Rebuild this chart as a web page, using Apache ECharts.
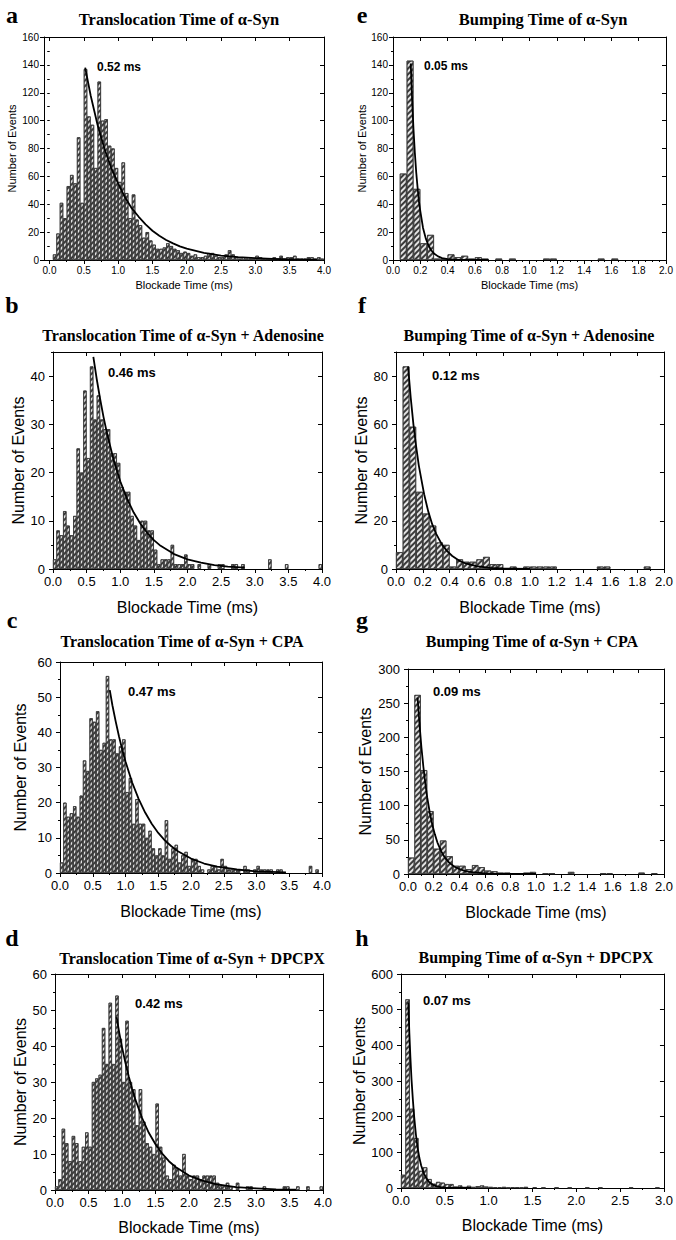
<!DOCTYPE html>
<html><head><meta charset="utf-8">
<script src="https://cdn.jsdelivr.net/npm/echarts@6/dist/echarts.min.js"></script>
<style>html,body{margin:0;padding:0;background:#fff}#c{width:676px;height:1240px}</style>
</head><body><div id="c"></div>
<script>
// ---------------- DATA ----------------
const BIN = 0.05;
// panel a: Translocation Time of α-Syn (bins start at 0.05 ms)
const aStart = 0.05;
const aCounts = [4,19,41,30,53,61,55,88,41,137, 103,97,66,128,100,101,82,80,66,56, 70,48,30,47,29,25,16,20,14,11,
  8,8,9,12,10,8,7,5,6,5, 3,4,2,2,3,5,5,3,2,2, 4,7,4,2,1,2,1,1,1,3, 2,1,1,1,2,1,3,1,2,2, 3,1,1,1,2,2,1,2,1];
const aFit = [[0.52,138],[0.6,118],[0.7,97],[0.8,80],[0.9,66],[1.0,55],[1.1,45],[1.2,37],[1.3,31],[1.4,25.5],[1.5,21],[1.6,17.4],[1.7,14.4],[1.8,11.9],[1.9,9.8],[2.0,8.1],[2.25,5.1],[2.5,3.2],[2.75,2.0],[3.0,1.3],[3.25,0.8],[3.5,0.5],[3.75,0.3],[3.9,0.25]];
// panel e: Bumping Time of α-Syn
const eStart = 0.05;
const eCounts = [62,143,51,12,18,1,1,4,2,3, 1,2,1,0,1,0,1,0,0,0, 0,1,1,0,0,0,0,0,0,1, 0,1];
const eFit = [[0.13,141],[0.14,115],[0.15,94],[0.16,77],[0.17,63],[0.18,52],[0.19,42],[0.2,35],[0.22,23],[0.24,15.5],[0.26,10.4],[0.28,7],[0.3,4.7],[0.33,2.6],[0.36,1.4],[0.4,0.6],[0.45,0.2],[0.5,0.1],[0.7,0]];
// panel b: Translocation + Adenosine
const bStart = 0;
const bCounts = [2,8,7,12,9,7,11,25,20,37, 23,42,31,36,31,29,29,24,24,22, 17,16,16,11,9,6,10,10,8,8,
  4,1,2,2,2,5,1,1,1,3, 1,1,0,1,0,0,1,0,0,1, 1,0,0,1,1,0,1,0,0,0, 0,0,0,0,2,0,0,0,0,1, 0,0,0,0,0,0,0,0,0,1];
const bFit = [[0.6,44],[0.65,39.4],[0.7,35.3],[0.75,31.6],[0.8,28.3],[0.9,22.7],[1.0,18.2],[1.1,14.6],[1.2,11.7],[1.3,9.4],[1.4,7.5],[1.5,6.0],[1.6,4.8],[1.8,3.1],[2.0,2.0],[2.2,1.3],[2.4,0.8],[2.6,0.5],[2.85,0.3]];
// panel f: Bumping + Adenosine
const fStart = 0;
const fCounts = [7,84,59,32,23,18,11,10,1,4, 3,3,4,5,2,2,0,1,0,1, 1,1,1,1,0,0,0,0,0,0, 1,1,0,0,0,0,0,1];
const fFit = [[0.09,84],[0.11,71],[0.13,60],[0.15,51],[0.17,43],[0.19,37],[0.21,31],[0.24,24],[0.27,18.6],[0.3,14.6],[0.34,10.4],[0.38,7.5],[0.42,5.4],[0.47,3.5],[0.52,2.3],[0.6,1.2],[0.7,0.5],[0.8,0.2],[1.0,0]];
// panel c: Translocation + CPA
const cStart = 0;
const cCounts = [3,20,16,17,19,16,22,32,29,44, 43,46,35,37,56,38,38,34,36,38, 23,27,14,21,14,14,10,12,7,5,
  7,5,15,4,7,8,3,5,6,2, 4,4,2,1,0,1,2,2,1,4, 2,1,1,1,1,0,2,1,0,1, 2,1,1,1,1,0,1,1,0,0, 0,0,0,0,0,0,2,0,1,0];
const cFit = [[0.76,52],[0.8,47.7],[0.85,43.1],[0.9,38.9],[0.95,35.1],[1.0,31.7],[1.1,25.8],[1.2,21.1],[1.3,17.2],[1.4,14.0],[1.5,11.4],[1.6,9.3],[1.7,7.6],[1.8,6.2],[2.0,4.1],[2.2,2.7],[2.4,1.8],[2.7,1.0],[3.0,0.45],[3.45,0.2]];
// panel g: Bumping + CPA
const gStart = 0;
const gCounts = [24,262,152,92,37,49,26,12,12,7, 13,10,5,4,2,2,1,0,2,3, 0,1,1,0,0,3,0,0,0,0, 1,1,0,0,0,0,2,0,1,0];
const gFit = [[0.075,258],[0.09,219],[0.105,185],[0.12,157],[0.135,133],[0.15,112],[0.17,90],[0.19,72],[0.21,58],[0.23,46],[0.26,33],[0.29,23.5],[0.32,17],[0.36,11],[0.4,7.3],[0.45,4.3],[0.5,2.6],[0.6,0.9],[0.7,0.3],[0.85,0.1],[1.0,0]];
// panel d: Translocation + DPCPX
const dStart = 0;
const dCounts = [1,3,17,13,8,15,13,8,12,16, 12,30,31,32,45,35,52,35,54,42, 30,47,30,28,18,28,19,13,12,10,
  24,12,9,4,3,7,6,4,10,4, 3,4,4,3,4,4,4,4,2,1, 1,2,1,0,2,0,0,1,1,0, 0,0,1,0,0,0,0,0,1,1, 0,0,1,0,0,1,0,0,0,1];
const dFit = [[0.92,48],[0.96,43.6],[1.0,39.7],[1.05,35.4],[1.1,31.6],[1.15,28.2],[1.2,25.1],[1.3,20.0],[1.4,15.9],[1.5,12.7],[1.6,10.1],[1.7,8.0],[1.8,6.4],[2.0,4.0],[2.2,2.6],[2.4,1.6],[2.7,0.8],[3.0,0.45],[3.3,0.2],[3.6,0.1]];
// panel h: Bumping + DPCPX
const hStart = 0;
const hCounts = [37,529,222,140,48,58,25,12,17,15, 11,11,4,7,3,6,3,5,7,4, 3,2,2,3,1,2,2,1,3,0,
  2,0,1,0,0,1,0,0,1,0, 0,0,1,0,0,1,0,0,0,0, 0,0,1,0,0,0,0,0,1];
const hFit = [[0.083,520],[0.095,436],[0.107,367],[0.12,304],[0.135,249],[0.15,200],[0.17,150],[0.19,112],[0.21,84],[0.23,63],[0.26,41],[0.29,27],[0.32,17],[0.36,9.6],[0.4,5.4],[0.45,2.7],[0.5,1.3],[0.6,0.3],[0.8,0]];

// tick labels
const xTicks4 = [0,0.5,1,1.5,2,2.5,3,3.5,4];
const xTicks2 = [0,0.2,0.4,0.6,0.8,1,1.2,1.4,1.6,1.8,2];
const xTicks3 = [0,0.5,1,1.5,2,2.5,3];
const yTicks160 = [0,20,40,60,80,100,120,140,160];
const yTicks40 = [0,10,20,30,40];
const yTicks80 = [0,20,40,60,80];
const yTicks60 = [0,10,20,30,40,50,60];
const yTicks300 = [0,50,100,150,200,250,300];
const yTicks600 = [0,100,200,300,400,500,600];

const titles = {
  a:'Translocation Time of α-Syn', e:'Bumping Time of α-Syn',
  b:'Translocation Time of α-Syn + Adenosine', f:'Bumping Time of α-Syn + Adenosine',
  c:'Translocation Time of α-Syn + CPA', g:'Bumping Time of α-Syn + CPA',
  d:'Translocation Time of α-Syn + DPCPX', h:'Bumping Time of α-Syn + DPCPX'
};
const fitLabels = {a:'0.52 ms', e:'0.05 ms', b:'0.46 ms', f:'0.12 ms', c:'0.47 ms', g:'0.09 ms', d:'0.42 ms', h:'0.07 ms'};
const X_NAME = 'Blockade Time (ms)';
const Y_NAME = 'Number of Events';

// ---------------- LAYOUT ----------------
const SANS = 'Liberation Sans, Arial, sans-serif';
const SERIF = 'Liberation Serif, Times New Roman, serif';
const panels = [
  {k:'a', start:aStart, counts:aCounts, fit:aFit, grid:{left:44,top:37,width:280,height:223}, xmin:-0.08, xmax:4, xt:xTicks4, xminor:0.25, ymax:160, yt:yTicks160, yminor:10, small:true,
   title:[179,19], titleSize:16.5, letter:[12,15], ann:[97,67], yNameGap:27, xNameGap:19},
  {k:'e', start:eStart, counts:eCounts, fit:eFit, grid:{left:393,top:37,width:273,height:223}, xmin:0, xmax:2, xt:xTicks2, xminor:0.05, ymax:160, yt:yTicks160, yminor:10, small:true,
   title:[543,19], titleSize:16.5, letter:[362,15], ann:[424,66], yNameGap:26, xNameGap:19},
  {k:'b', start:bStart, counts:bCounts, fit:bFit, grid:{left:53,top:352,width:269,height:217}, xmin:0, xmax:4, xt:xTicks4, xminor:0.25, ymax:45, yt:yTicks40, yminor:5,
   title:[183,335], titleSize:16, letter:[12,305], ann:[108,372], yNameGap:25, xNameGap:30},
  {k:'f', start:fStart, counts:fCounts, fit:fFit, grid:{left:396,top:352,width:271,height:217}, xmin:0, xmax:2, xt:xTicks2, xminor:0.1, ymax:90, yt:yTicks80, yminor:10,
   title:[529,335], titleSize:16, letter:[362,305], ann:[432,375], yNameGap:23, xNameGap:30},
  {k:'c', start:cStart, counts:cCounts, fit:cFit, grid:{left:60,top:662,width:262,height:211}, xmin:0, xmax:4, xt:xTicks4, xminor:0.25, ymax:60, yt:yTicks60, yminor:5,
   title:[182,641], titleSize:16, letter:[12,620], ann:[128,691], yNameGap:32, xNameGap:30},
  {k:'g', start:gStart, counts:gCounts, fit:gFit, grid:{left:408,top:669,width:258,height:205}, xmin:0, xmax:2, xt:xTicks2, xminor:0.1, ymax:300, yt:yTicks300, yminor:25,
   title:[532,641], titleSize:16, letter:[362,620], ann:[433,691], yNameGap:35, xNameGap:30},
  {k:'d', start:dStart, counts:dCounts, fit:dFit, grid:{left:55,top:974,width:268,height:216}, xmin:0, xmax:4, xt:xTicks4, xminor:0.25, ymax:60, yt:yTicks60, yminor:5,
   title:[192,958], titleSize:16, letter:[12,938], ann:[135,1003], yNameGap:27, xNameGap:29},
  {k:'h', start:hStart, counts:hCounts, fit:hFit, grid:{left:401,top:974,width:266,height:214}, xmin:0, xmax:3, xt:xTicks3, xminor:0.25, ymax:600, yt:yTicks600, yminor:50,
   title:[536,957], titleSize:16, letter:[362,938], ann:[423,1000], yNameGap:30, xNameGap:29}
];

function steps(min, max, step) {
  const out = [];
  const s = Math.ceil(min / step - 1e-9);
  for (let i = s; i * step <= max + 1e-9; i++) out.push(+(i * step).toFixed(4));
  return out;
}

const option = {animation:false, backgroundColor:'#fff', grid:[], xAxis:[], yAxis:[], series:[], graphic:[]};
const hatch = {symbol:'rect', symbolSize:1, dashArrayX:[1,0], dashArrayY:[1.1,1.9], rotation:-Math.PI/4, color:'#3a3a3a'};

panels.forEach((p, gi) => {
  option.grid.push(Object.assign({containLabel:false}, p.grid));
  const tickFont = p.small ? 10 : 13, nameFont = p.small ? 11 : 16;
  const line = {lineStyle:{color:'#000', width:1}};
  const xi = option.xAxis.length, yi = option.yAxis.length;
  const xc = {gridIndex:gi, type:'value', min:p.xmin, max:p.xmax, splitLine:{show:false}};
  const yc = {gridIndex:gi, type:'value', min:0, max:p.ymax, splitLine:{show:false}};
  const xMinor = steps(p.xmin, p.xmax, p.xminor), yMinor = steps(0, p.ymax, p.yminor);
  option.xAxis.push(Object.assign({}, xc, {position:'bottom', axisLine:Object.assign({onZero:false}, line),
    axisTick:{customValues:p.xt, length:4, inside:false, lineStyle:{color:'#000'}},
    axisLabel:{customValues:p.xt, formatter:v => v.toFixed(1), fontSize:tickFont, fontFamily:SANS, color:'#000', margin:p.small ? 5 : 6},
    name:X_NAME, nameLocation:'middle', nameGap:p.xNameGap, nameTextStyle:{fontSize:nameFont, fontFamily:SANS, color:'#000'}}));
  option.xAxis.push(Object.assign({}, xc, {position:'bottom', axisLine:{show:false}, axisTick:{customValues:xMinor, length:2, lineStyle:{color:'#000'}}, axisLabel:{show:false}}));
  option.xAxis.push(Object.assign({}, xc, {position:'top', axisLine:Object.assign({onZero:false}, line), axisTick:{customValues:p.xt, length:4, inside:true, lineStyle:{color:'#000'}}, axisLabel:{show:false}}));
  option.xAxis.push(Object.assign({}, xc, {position:'top', axisLine:{show:false}, axisTick:{customValues:xMinor, length:2, inside:true, lineStyle:{color:'#000'}}, axisLabel:{show:false}}));

  option.yAxis.push(Object.assign({}, yc, {position:'left', axisLine:Object.assign({onZero:false}, line),
    axisTick:{customValues:p.yt, length:4, inside:false, lineStyle:{color:'#000'}},
    axisLabel:{customValues:p.yt, fontSize:tickFont, fontFamily:SANS, color:'#000', margin:p.small ? 5 : 8},
    name:Y_NAME, nameLocation:'middle', nameGap:p.yNameGap, nameRotate:90, nameTextStyle:{fontSize:nameFont, fontFamily:SANS, color:'#000'}}));
  option.yAxis.push(Object.assign({}, yc, {position:'left', axisLine:{show:false}, axisTick:{customValues:yMinor, length:2, lineStyle:{color:'#000'}}, axisLabel:{show:false}}));
  option.yAxis.push(Object.assign({}, yc, {position:'right', axisLine:Object.assign({onZero:false}, line), axisTick:{customValues:p.yt, length:4, inside:true, lineStyle:{color:'#000'}}, axisLabel:{show:false}}));
  option.yAxis.push(Object.assign({}, yc, {position:'right', axisLine:{show:false}, axisTick:{customValues:yMinor, length:2, inside:true, lineStyle:{color:'#000'}}, axisLabel:{show:false}}));

  const bars = [];
  p.counts.forEach((v, i) => { if (v > 0) bars.push([+(p.start + (i + 0.5) * BIN).toFixed(4), v]); });
  option.series.push({type:'bar', xAxisIndex:xi, yAxisIndex:yi, data:bars, barWidth:'100%', silent:true,
    itemStyle:{color:'#e2e2e2', borderColor:'#333', borderWidth:0.7, decal:hatch}});
  option.series.push({type:'line', xAxisIndex:xi, yAxisIndex:yi, data:p.fit, smooth:false, symbol:'none', silent:true, z:5,
    lineStyle:{color:'#000', width:1.8, join:'round'}});

  option.graphic.push({type:'text', x:p.title[0], y:p.title[1], style:{text:titles[p.k], textAlign:'center', textVerticalAlign:'middle', font:'bold ' + p.titleSize + 'px ' + SERIF, fill:'#000'}});
  option.graphic.push({type:'text', x:p.letter[0], y:p.letter[1], style:{text:p.k, textAlign:'center', textVerticalAlign:'middle', font:'bold 24px ' + SERIF, fill:'#000'}});
  option.graphic.push({type:'text', x:p.ann[0], y:p.ann[1], style:{text:fitLabels[p.k], textAlign:'left', textVerticalAlign:'middle', font:'bold ' + (p.small ? 12 : 13) + 'px ' + SANS, fill:'#000'}});
});

const chart = echarts.init(document.getElementById('c'), null, {renderer:'svg', width:676, height:1240});
chart.setOption(option);
</script>
</body></html>
